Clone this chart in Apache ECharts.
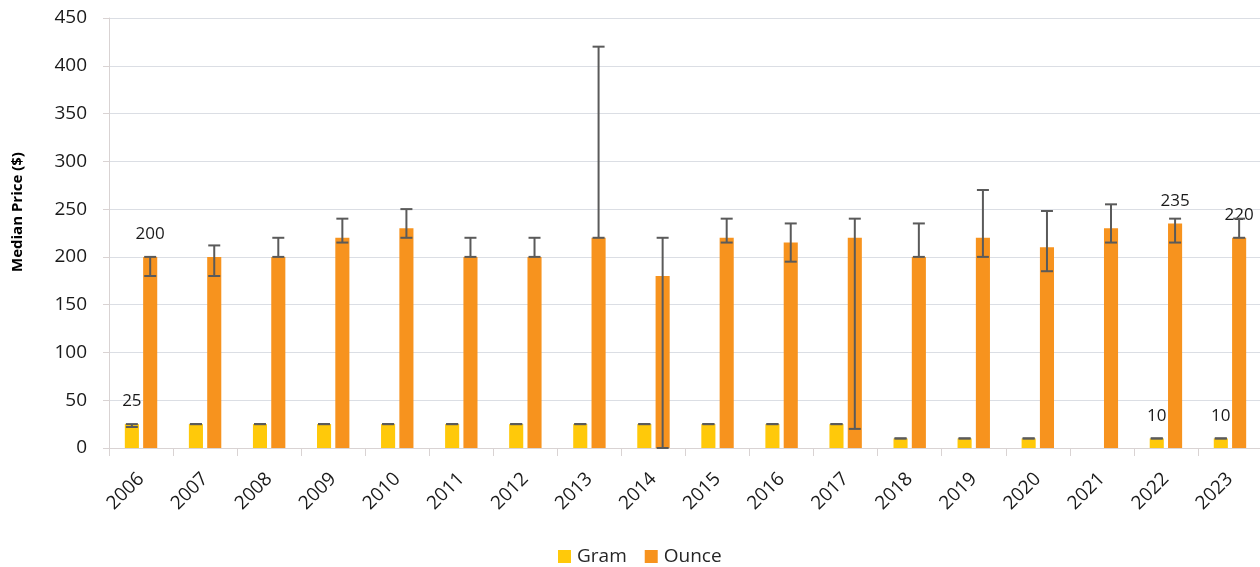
<!DOCTYPE html>
<html><head><meta charset="utf-8">
<script src="https://cdn.jsdelivr.net/npm/echarts@6/dist/echarts.min.js"></script>
<style>html,body{margin:0;padding:0;background:#fff}#c{width:1260px;height:567px}</style>
</head><body><div id="c"></div>
<script>
const years = ['2006','2007','2008','2009','2010','2011','2012','2013','2014','2015','2016','2017','2018','2019','2020','2021','2022','2023'];
const gram = [25,25,25,25,25,25,25,25,25,25,25,25,10,10,10,null,10,10];
const gramLow = [22,25,25,25,25,25,25,25,25,25,25,25,10,10,10,null,10,10];
const gramHigh = [25,25,25,25,25,25,25,25,25,25,25,25,10,10,10,null,10,10];
const ounce = [200,200,200,220,230,200,200,220,180,220,215,220,200,220,210,230,235,220];
const ounceLow = [180,180,200,215,220,200,200,220,0,215,195,20,200,200,185,215,215,220];
const ounceHigh = [200,212,220,240,250,220,220,420,220,240,235,240,235,270,248,255,240,240];
const labelledIdx = [0,16,17];
const yTicks = {min:0,max:450,interval:50};

const FONT = '"Open Sans", "Noto Sans", sans-serif';
const BW = 0.22, GAP = 0.3;

function barData(vals){
  return vals.map((v,i)=>({value:v, label:{show: labelledIdx.includes(i) && v!=null}}));
}
const errData = [];
years.forEach((y,i)=>{
  if(gram[i]!=null) errData.push([i, gramLow[i], gramHigh[i], 0]);
  if(ounce[i]!=null) errData.push([i, ounceLow[i], ounceHigh[i], 1]);
});

const chart = echarts.init(document.getElementById('c'), null, {renderer:'canvas'});
chart.setOption({
  animation:false,
  textStyle:{fontFamily:FONT},
  grid:{left:109,right:-2,top:18,bottom:119,containLabel:false,outerBoundsMode:'none'},
  legend:{bottom:1,left:558,padding:0,itemWidth:13,itemHeight:13,itemGap:18,icon:'rect',
    textStyle:{fontSize:19,color:'#262626',fontFamily:FONT,padding:[0,0,0,1]},data:['Gram','Ounce']},
  xAxis:{type:'category',data:years,
    axisLine:{show:true,lineStyle:{color:'#D9D3D3',width:1}},
    axisTick:{show:true,length:8,interval:0,lineStyle:{color:'#D9D3D3'}},
    axisLabel:{rotate:45,fontSize:19,color:'#1a1a1a',interval:0,margin:28,fontFamily:FONT}},
  yAxis:{type:'value',min:yTicks.min,max:yTicks.max,interval:yTicks.interval,
    name:'Median Price ($)',nameLocation:'middle',nameGap:84,
    nameTextStyle:{fontSize:15,fontWeight:'bold',color:'#000',fontFamily:FONT,padding:[0,0,0,42]},
    axisLine:{show:true,lineStyle:{color:'#D9D3D3'}},
    axisTick:{show:true,length:6,lineStyle:{color:'#D9D3D3'}},
    axisLabel:{fontSize:19,color:'#1a1a1a',margin:22,fontFamily:FONT}},
  series:[
    {name:'Gram',type:'bar',data:barData(gram),barWidth:(BW*100)+'%',barGap:(GAP*100)+'%',
      itemStyle:{color:'#FFC90A'},
      label:{position:'top',distance:14,fontSize:17,color:'#1a1a1a',fontFamily:FONT}},
    {name:'Ounce',type:'bar',data:barData(ounce),barWidth:(BW*100)+'%',barGap:(GAP*100)+'%',
      itemStyle:{color:'#F7931E'},
      label:{position:'top',distance:14,fontSize:17,color:'#1a1a1a',fontFamily:FONT}},
    {name:'err',type:'custom',data:errData,z:10,silent:true,
      renderItem:function(params,api){
        const i=api.value(0), lo=api.value(1), hi=api.value(2), s=api.value(3);
        const band=api.size([1,0])[0];
        const bw=band*BW, gap=bw*GAP;
        const off=(s===0?-1:1)*(bw+gap)/2;
        const pLo=api.coord([i,lo]), pHi=api.coord([i,hi]);
        const cx=pLo[0]+off, cap=6;
        const st={stroke:'#5A5A5A',lineWidth:2};
        const ch=[
          {type:'line',shape:{x1:cx,y1:pLo[1],x2:cx,y2:pHi[1]},style:st},
          {type:'line',shape:{x1:cx-cap,y1:pLo[1],x2:cx+cap,y2:pLo[1]},style:st},
          {type:'line',shape:{x1:cx-cap,y1:pHi[1],x2:cx+cap,y2:pHi[1]},style:st}
        ];
        return {type:'group',children:ch};
      }}
  ]
});
</script></body></html>
